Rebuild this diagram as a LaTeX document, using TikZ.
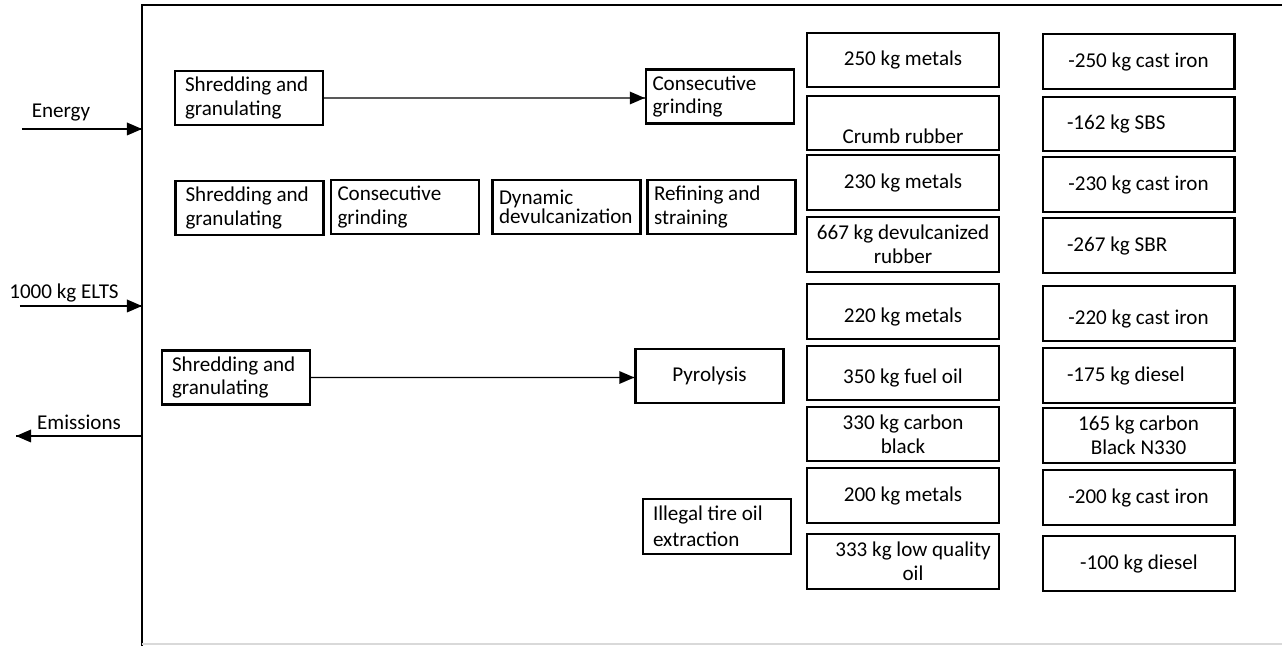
\documentclass[tikz,border=0pt]{standalone}
\usepackage{fontspec}
\setmainfont{Carlito}
\begin{document}
\begin{tikzpicture}[scale=0.2]
\tikzstyle{every node}+=[inner sep=0pt, font=\fontsize{12}{13.6}\selectfont]
\tikzstyle{proc}=[draw, line width=1.4pt, align=flush left, text width=2.56cm, inner xsep=0.2cm, minimum height=1.08cm]
\tikzstyle{tight}=[inner xsep=0.13cm, text width=2.7cm]
\tikzstyle{prod}=[draw, line width=1.4pt, align=center, minimum width=3.83cm, minimum height=1.09cm]
\tikzstyle{prodl}=[prod, align=flush left, text width=2.86cm, inner xsep=0.48cm]
\tikzset{lowtext/.style={text height=#1, text depth=0pt}}
\useasboundingbox (0,0) rectangle (128.2,-64.6);
% system boundary
\draw [black, line width=1.2pt] (14.2,-64.6) -- (14.2,-0.5) -- (128.2,-0.5);
\draw [black!15, line width=0.6pt] (14.2,-64.4) -- (128.2,-64.4);
% flows across the boundary
\coordinate (enA) at (2.2,-12.9);
\coordinate (enB) at (14.2,-12.9);
\node (energy) at (6.1,-11.3) {Energy};
\draw [black, line width=0.6pt] (enA) -- (enB);
\fill [black] (enB) -- ++(-1.5,0.65) -- ++(0,-1.3) -- cycle;
\coordinate (elA) at (2.0,-30.6);
\coordinate (elB) at (14.2,-30.6);
\node (elts) at (6.4,-29.3) {1000 kg ELTS};
\draw [black, line width=0.6pt] (elA) -- (elB);
\fill [black] (elB) -- ++(-1.5,0.65) -- ++(0,-1.3) -- cycle;
\coordinate (emA) at (14.2,-43.6);
\coordinate (emB) at (1.6,-43.6);
\node (emis) at (7.9,-42.2) {Emissions};
\draw [black, line width=0.6pt] (emA) -- (emB);
\fill [black] (emB) -- ++(1.5,0.65) -- ++(0,-1.3) -- cycle;
% crumb rubber route
\node [proc] (sgA) at (24.9,-9.8) {Shredding and\\granulating};
\node [proc, tight] (cgA) at (72.0,-9.65) {Consecutive\\grinding};
\coordinate (tipA) at (sgA.east -| cgA.west);
\draw [black, line width=0.6pt] (sgA.east) -- (tipA);
\fill [black] (tipA) -- ++(-1.5,0.65) -- ++(0,-1.3) -- cycle;
% devulcanization route
\node [proc] (sgB) at (24.95,-20.8) {Shredding and\\granulating};
\node [proc, tight] (cgB) at (40.5,-20.7) {Consecutive\\grinding};
\node [proc, tight, font=\fontsize{12}{10.5}\selectfont] (dd) at (56.65,-20.7) {Dynamic\\devulcanization};
\node [proc, tight] (rs) at (72.15,-20.7) {Refining and\\straining};
% pyrolysis route
\node [proc] (sgC) at (23.6,-37.75) {Shredding and\\granulating};
\node [proc, align=center] (pyr) at (70.95,-37.6) {Pyrolysis};
\coordinate (tipC) at (sgC.east -| pyr.west);
\draw [black, line width=0.6pt] (sgC.east) -- (tipC);
\fill [black] (tipC) -- ++(-1.5,0.65) -- ++(0,-1.3) -- cycle;
% illegal route
\node [proc, minimum height=1.1cm, font=\fontsize{12}{15}\selectfont] (itoe) at (71.7,-52.65) {Illegal tire oil\\extraction};
% products
\node [prod] (mA) at (90.3,-6.0) {250 kg metals};
\node [prod, lowtext=22.8pt] (crumb) at (90.3,-12.3) {Crumb rubber};
\node [prod] (mB) at (90.3,-18.25) {230 kg metals};
\node [prod] (devul) at (90.3,-24.45) {667 kg devulcanized\\rubber};
\node [prod, lowtext=12pt] (mC) at (90.3,-31.15) {220 kg metals};
\node [prod, lowtext=11.4pt] (fuel) at (90.3,-37.3) {350 kg fuel oil};
\node [prod] (cblack) at (90.3,-43.4) {330 kg carbon\\black};
\node [prod] (mD) at (90.3,-49.55) {200 kg metals};
\node [prod] (lqoil) at (90.3,-56.15) {\hspace*{0.4cm}333 kg low quality\\\hspace*{0.4cm}oil};
% avoided products
\node [prod] (ciA) at (113.85,-6.15) {-250 kg cast iron};
\node [prodl] (sbs) at (113.85,-12.4) {-162 kg SBS};
\node [prod] (ciB) at (113.85,-18.45) {-230 kg cast iron};
\node [prodl] (sbr) at (113.85,-24.55) {-267 kg SBR};
\node [prod, lowtext=12pt] (ciC) at (113.85,-31.35) {-220 kg cast iron};
\node [prodl] (diesA) at (113.85,-37.55) {-175 kg diesel};
\node [prod] (cbn) at (113.85,-43.55) {165 kg carbon\\Black N330};
\node [prod] (ciD) at (113.85,-49.75) {-200 kg cast iron};
\node [prod] (diesB) at (113.9,-56.35) {-100 kg diesel};
\end{tikzpicture}
\end{document}
